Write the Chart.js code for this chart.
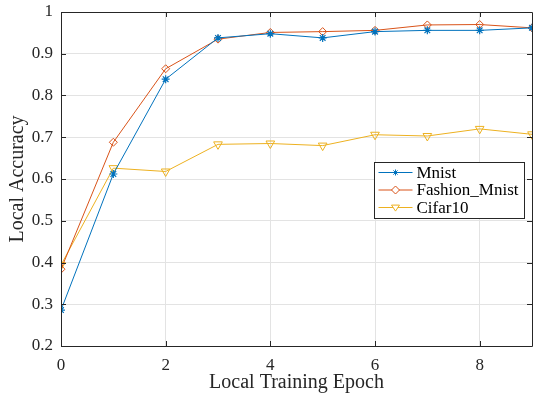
<!DOCTYPE html>
<html>
<head>
<meta charset="utf-8">
<script src="https://cdn.jsdelivr.net/npm/chart.js@4.4.0/dist/chart.umd.min.js"></script>
<style>
html,body{margin:0;padding:0;background:#fff;}
#wrap{width:536px;height:396px;}
</style>
</head>
<body>
<div id="wrap"><canvas id="c" width="536" height="396"></canvas></div>
<script>
const epochs = [0,1,2,3,4,5,6,7,8,9];
const mnist = [0.286,0.612,0.839,0.938,0.948,0.938,0.953,0.956,0.956,0.962];
const fashionMnist = [0.384,0.688,0.864,0.935,0.951,0.953,0.956,0.969,0.970,0.962];
const cifar10 = [0.394,0.626,0.618,0.683,0.685,0.680,0.706,0.703,0.720,0.707];
const seriesNames = ['Mnist','Fashion_Mnist','Cifar10'];
const xTicks = [0,2,4,6,8];
const yTicks = [0.2,0.3,0.4,0.5,0.6,0.7,0.8,0.9,1];

const colors = ['#0072BD','#D95319','#EDB120'];
const FONT = '"Liberation Serif", "DejaVu Serif", serif';

function pts(arr){ return arr.map((v,i)=>({x:epochs[i], y:v})); }

const boxPlugin = {
  id:'box',
  afterDraw(chart){
    const {ctx, chartArea:a, scales} = chart;
    ctx.save();
    ctx.strokeStyle = '#262626';
    ctx.lineWidth = 1;
    ctx.beginPath();
    ctx.rect(Math.round(a.left)+0.5, Math.round(a.top)+0.5, Math.round(a.right-a.left), Math.round(a.bottom-a.top));
    ctx.stroke();
    const L = 5;
    ctx.beginPath();
    xTicks.forEach(t=>{
      const x = Math.round(scales.x.getPixelForValue(t))+0.5;
      ctx.moveTo(x, a.bottom); ctx.lineTo(x, a.bottom-L);
      ctx.moveTo(x, a.top); ctx.lineTo(x, a.top+L);
    });
    yTicks.forEach(t=>{
      const y = Math.round(scales.y.getPixelForValue(t))+0.5;
      ctx.moveTo(a.left, y); ctx.lineTo(a.left+L, y);
      ctx.moveTo(a.right, y); ctx.lineTo(a.right-L, y);
    });
    ctx.stroke();

    // legend
    const lx = 374.5, ly = 162.5, lw = 150, lh = 56;
    ctx.fillStyle = '#fff';
    ctx.fillRect(lx, ly, lw, lh);
    ctx.strokeStyle = '#262626';
    ctx.strokeRect(lx, ly, lw, lh);
    ctx.font = '17px ' + FONT;
    ctx.textBaseline = 'middle';
    chart.data.datasets.forEach((ds,i)=>{
      const y = ly + 10 + i*17.5;
      ctx.strokeStyle = ds.borderColor;
      ctx.lineWidth = 1;
      ctx.beginPath(); ctx.moveTo(lx+4, y); ctx.lineTo(lx+38, y); ctx.stroke();
      const cx = lx+21;
      ctx.beginPath();
      if(i===0){
        const r=3;
        for(let k=0;k<4;k++){
          const ang = k*Math.PI/4;
          ctx.moveTo(cx-r*Math.cos(ang), y-r*Math.sin(ang));
          ctx.lineTo(cx+r*Math.cos(ang), y+r*Math.sin(ang));
        }
        ctx.stroke();
      } else if(i===1){
        const r=4;
        ctx.moveTo(cx, y-r); ctx.lineTo(cx+r, y); ctx.lineTo(cx, y+r); ctx.lineTo(cx-r, y); ctx.closePath();
        ctx.fillStyle='#fff'; ctx.fill(); ctx.stroke();
      } else {
        const r=4;
        ctx.moveTo(cx-r, y-r*0.6); ctx.lineTo(cx+r, y-r*0.6); ctx.lineTo(cx, y+r*0.9); ctx.closePath();
        ctx.fillStyle='#fff'; ctx.fill(); ctx.stroke();
      }
      ctx.fillStyle = '#000';
      ctx.fillText(ds.label, lx+42, y+1);
    });
    ctx.restore();
  }
};

new Chart(document.getElementById('c'), {
  type:'line',
  data:{
    datasets:[
      {label:seriesNames[0], data:pts(mnist), borderColor:colors[0], backgroundColor:'rgba(0,0,0,0)',
       borderWidth:1, pointStyle:'star', pointRadius:4, pointBorderWidth:1.2, pointBackgroundColor:'rgba(0,0,0,0)', pointBorderColor:colors[0]},
      {label:seriesNames[1], data:pts(fashionMnist), borderColor:colors[1], backgroundColor:'rgba(0,0,0,0)',
       borderWidth:1, pointStyle:'rectRot', pointRadius:4, pointBorderWidth:1, pointBackgroundColor:'rgba(0,0,0,0)', pointBorderColor:colors[1]},
      {label:seriesNames[2], data:pts(cifar10), borderColor:colors[2], backgroundColor:'rgba(0,0,0,0)',
       borderWidth:1, pointStyle:'triangle', pointRotation:180, pointRadius:5, pointBorderWidth:1, pointBackgroundColor:'rgba(0,0,0,0)', pointBorderColor:colors[2]}
    ]
  },
  options:{
    responsive:false,
    animation:false,
    devicePixelRatio:1,
    layout:{autoPadding:false, padding:{left:0,right:4,top:12,bottom:0}},
    plugins:{legend:{display:false}, tooltip:{enabled:false}},
    scales:{
      x:{
        type:'linear', min:0, max:9,
        afterBuildTicks(s){ s.ticks = xTicks.map(v=>({value:v})); },
        afterFit(s){ s.height = 50; s.paddingLeft = 0; s.paddingRight = 0; },
        grid:{color:'#e3e3e3', drawTicks:false},
        border:{display:false},
        ticks:{color:'#262626', font:{family:FONT,size:17}, padding:9, maxRotation:0,
          callback:v=>String(v)},
        title:{display:true, text:'Local Training Epoch', color:'#262626', font:{family:FONT,size:20}, padding:{top:0,bottom:1}}
      },
      y:{
        type:'linear', min:0.2, max:1,
        afterBuildTicks(s){ s.ticks = yTicks.map(v=>({value:v})); },
        afterFit(s){ s.width = 61; s.paddingTop = 0; s.paddingBottom = 0; },
        grid:{color:'#e3e3e3', drawTicks:false},
        border:{display:false},
        ticks:{color:'#262626', font:{family:FONT,size:17}, padding:8,
          callback:v=>String(Number(v.toFixed(1)))},
        title:{display:true, text:'Local Accuracy', color:'#262626', font:{family:FONT,size:20}, padding:{top:6,bottom:0}}
      }
    }
  },
  plugins:[boxPlugin]
});
</script>
</body>
</html>
